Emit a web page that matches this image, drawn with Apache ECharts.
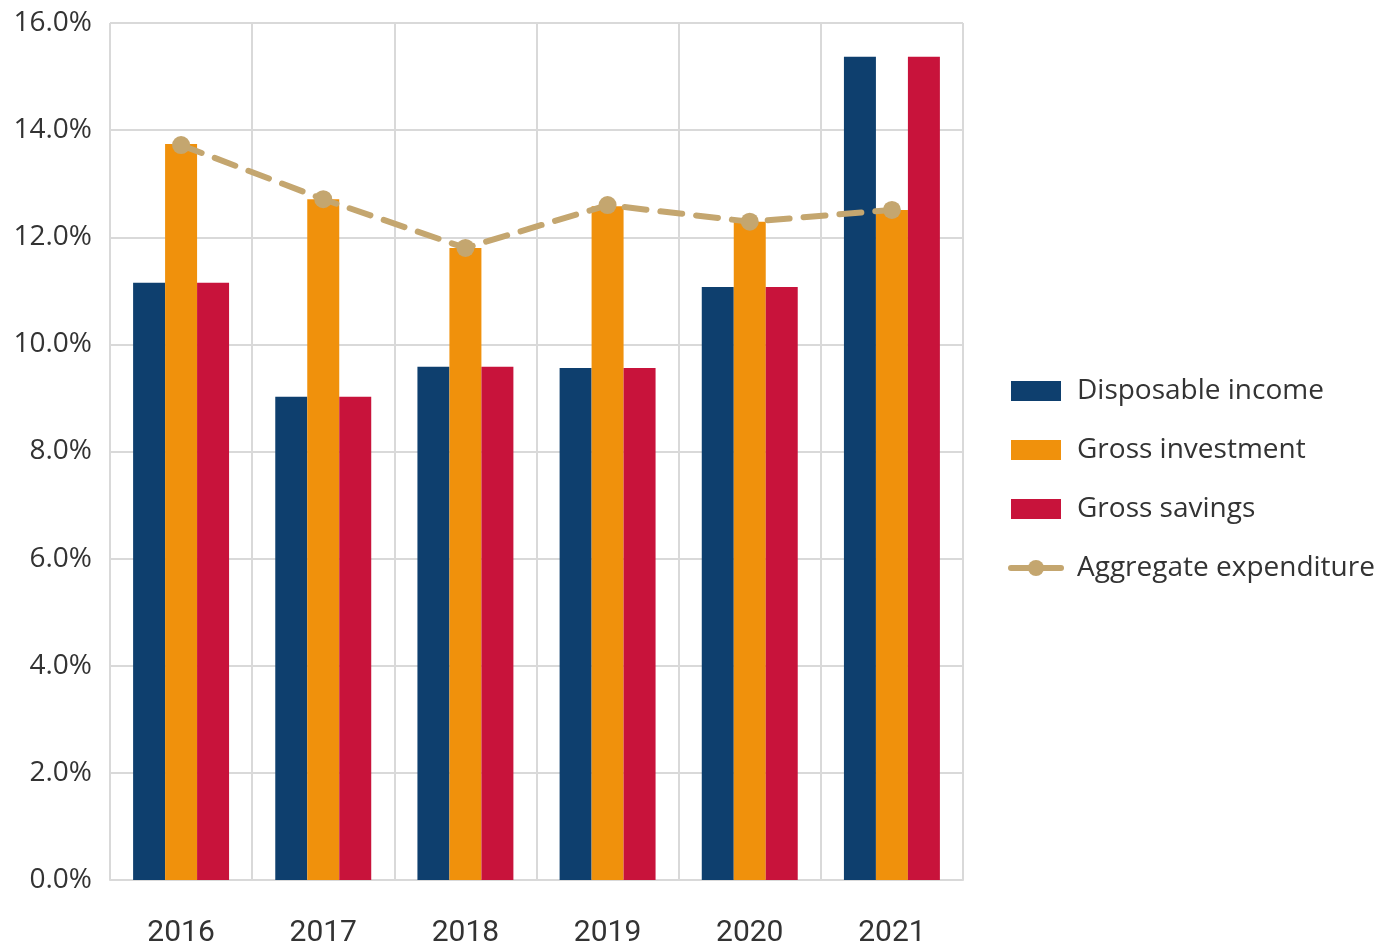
<!DOCTYPE html>
<html>
<head>
<meta charset="utf-8">
<script src="https://cdn.jsdelivr.net/npm/echarts@6/dist/echarts.min.js"></script>
<style>
  html, body { margin: 0; padding: 0; background: #fff; }
  #chart { width: 1385px; height: 946px; }
</style>
</head>
<body>
<div id="chart"></div>
<script>
var years = ["2016", "2017", "2018", "2019", "2020", "2021"];
var disposableIncome = [11.15, 9.02, 9.58, 9.56, 11.07, 15.37];
var grossInvestment = [13.74, 12.71, 11.80, 12.58, 12.29, 12.51];
var grossSavings = [11.15, 9.02, 9.58, 9.56, 11.07, 15.37];
var aggregateExpenditure = [13.72, 12.71, 11.80, 12.60, 12.29, 12.51];

var chart = echarts.init(document.getElementById("chart"));

var barStyle = function (color) {
  return {
    type: "bar",
    barGap: "0%",
    barCategoryGap: "32.5%",
    itemStyle: { color: color },
    emphasis: { disabled: true }
  };
};

var option = {
  animation: false,
  textStyle: { fontFamily: "Open Sans", color: "#333" },
  grid: { left: 110, right: 422, top: 23, bottom: 66, outerBoundsMode: "none" },
  legend: {
    orient: "vertical",
    left: 1003,
    top: 372,
    itemWidth: 50,
    itemHeight: 20,
    itemGap: 31,
    textStyle: { fontSize: 28, color: "#333", fontFamily: "Open Sans", padding: [0, 0, 0, 11] },
    data: [
      { name: "Disposable income", icon: "rect" },
      { name: "Gross investment", icon: "rect" },
      { name: "Gross savings", icon: "rect" },
      { name: "Aggregate expenditure", lineStyle: { width: 6, type: "solid" } }
    ]
  },
  xAxis: {
    type: "category",
    data: years,
    axisLine: { lineStyle: { color: "#d9d9d9", width: 2 } },
    axisTick: { show: false },
    axisLabel: { fontSize: 30, color: "#333", fontFamily: "Roboto", margin: 38 },
    splitLine: { show: true, lineStyle: { color: "#d9d9d9", width: 2 } }
  },
  yAxis: {
    type: "value",
    min: 0,
    max: 16,
    interval: 2,
    axisLine: { show: false },
    axisTick: { show: false },
    axisLabel: {
      fontSize: 28,
      color: "#333",
      margin: 18,
      formatter: function (v) { return v.toFixed(1) + "%"; }
    },
    splitLine: { lineStyle: { color: "#d9d9d9", width: 2 } }
  },
  series: [
    Object.assign({ name: "Disposable income", data: disposableIncome }, barStyle("#0e3f6e")),
    Object.assign({ name: "Gross investment", data: grossInvestment }, barStyle("#f0910c")),
    Object.assign({ name: "Gross savings", data: grossSavings }, barStyle("#c8133b")),
    {
      name: "Aggregate expenditure",
      type: "line",
      data: aggregateExpenditure,
      symbol: "circle",
      symbolSize: 18,
      itemStyle: { color: "#c4a66f" },
      lineStyle: { color: "#c4a66f", width: 6, type: [22, 14], cap: "round" },
      emphasis: { disabled: true },
      z: 5
    }
  ]
};

chart.setOption(option);
</script>
</body>
</html>
